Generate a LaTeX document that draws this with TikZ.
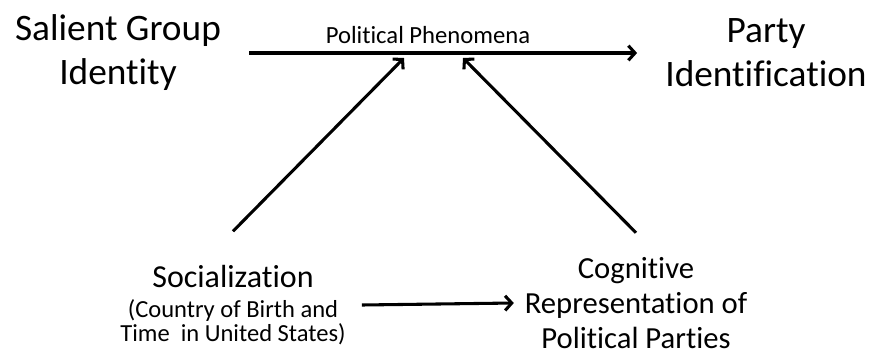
\documentclass[tikz,border=0pt]{standalone}
\usepackage{fontspec}
\setmainfont{Carlito}[Ligatures=NoCommon]
\usetikzlibrary{arrows.meta, positioning}

\begin{document}
\begin{tikzpicture}[x=0.75pt, y=-0.75pt,
  bigtxt/.style={font=\fontsize{28}{33}\selectfont, align=center, inner xsep=21pt, inner ysep=0pt},
  lowtxt/.style={align=center, inner xsep=12pt, inner ysep=24pt},
  link/.style={line width=2.3pt, -{Straight Barb[length=5pt, width=11pt]}}]

  \useasboundingbox (0,0) rectangle (872,354);

  %% Top row
  \node[bigtxt] (salient) at (118,53) {Salient Group\\Identity};
  \node[bigtxt] (party) at (766,53) {Party\\Identification};
  \draw[link] (salient.east) -- (party.west);
  \node[font=\fontsize{18.5}{20}\selectfont, anchor=base] (phen) at (428,43) {Political Phenomena};
  \coordinate (phenL) at (404,58);
  \coordinate (phenR) at (463,58);

  %% Bottom row
  \node[lowtxt, inner ysep=25pt, font=\fontsize{18.4}{18}\selectfont] (social) at (233,305)
    {{\fontsize{24}{24}\selectfont Socialization}\\[5pt](Country of Birth and\\Time\ \ in United States)};
  \node[lowtxt, inner xsep=8pt, inner ysep=18.5pt, font=\fontsize{23}{26}\selectfont] (cognit) at (636,303)
    {Cognitive\\Representation of\\Political Parties};
  \draw[link] (social.east) -- (cognit.west);

  %% Paths into the phenomena
  \foreach \src/\dst in {social/phenL, cognit/phenR}{
    \draw[link] (\src.north) -- (\dst);
  }

\end{tikzpicture}
\end{document}
